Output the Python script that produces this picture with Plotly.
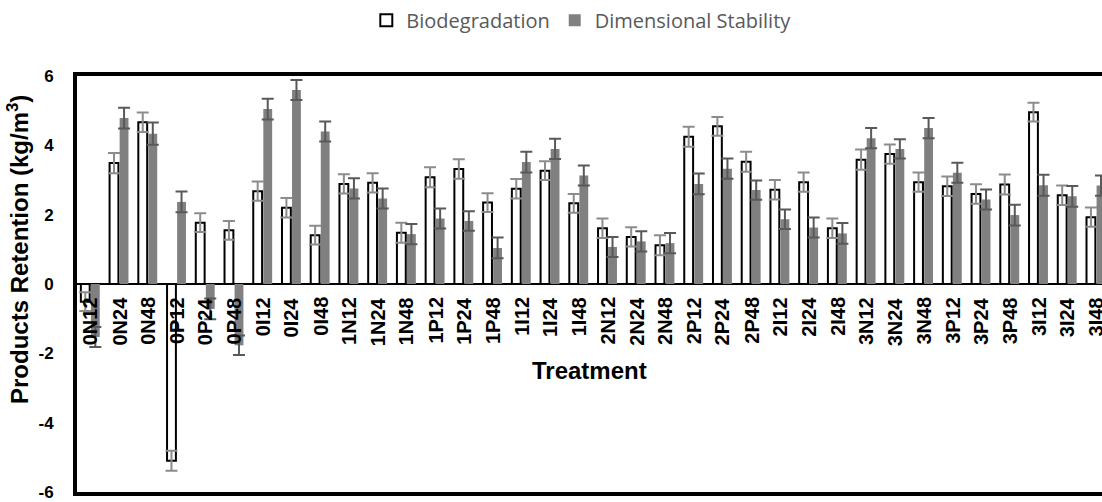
import plotly.graph_objects as go

# Treatment codes along the x axis
treatments = [
    "0N12", "0N24", "0N48", "0P12", "0P24", "0P48", "0I12", "0I24", "0I48",
    "1N12", "1N24", "1N48", "1P12", "1P24", "1P48", "1I12", "1I24", "1I48",
    "2N12", "2N24", "2N48", "2P12", "2P24", "2P48", "2I12", "2I24", "2I48",
    "3N12", "3N24", "3N48", "3P12", "3P24", "3P48", "3I12", "3I24", "3I48",
]

# Products retention (kg/m3) after the biodegradation test
biodegradation = [
    -0.51, 3.49, 4.67, -5.10, 1.77, 1.55, 2.68, 2.20, 1.41,
    2.89, 2.92, 1.48, 3.08, 3.32, 2.35, 2.75, 3.27, 2.33,
    1.61, 1.36, 1.12, 4.25, 4.55, 3.53, 2.72, 2.94, 1.61,
    3.59, 3.75, 2.94, 2.82, 2.60, 2.87, 4.96, 2.56, 1.93,
]
biodegradation_err = [
    0.27, 0.29, 0.28, 0.29, 0.27, 0.27, 0.28, 0.28, 0.27,
    0.28, 0.28, 0.29, 0.29, 0.28, 0.27, 0.28, 0.27, 0.27,
    0.28, 0.28, 0.29, 0.29, 0.27, 0.29, 0.28, 0.28, 0.28,
    0.29, 0.28, 0.28, 0.28, 0.28, 0.29, 0.27, 0.28, 0.28,
]

# Products retention (kg/m3) after the dimensional stability test
dimensional = [
    -1.53, 4.79, 4.34, 2.37, -0.72, -1.77, 5.05, 5.60, 4.40,
    2.76, 2.47, 1.44, 1.89, 1.82, 1.04, 3.52, 3.90, 3.13,
    1.07, 1.23, 1.18, 2.89, 3.33, 2.71, 1.87, 1.63, 1.46,
    4.21, 3.90, 4.50, 3.21, 2.44, 1.99, 2.85, 2.53, 2.84,
]
dimensional_err = [
    0.29, 0.30, 0.32, 0.30, 0.30, 0.28, 0.30, 0.29, 0.29,
    0.29, 0.29, 0.29, 0.29, 0.28, 0.30, 0.30, 0.29, 0.29,
    0.29, 0.29, 0.29, 0.30, 0.29, 0.28, 0.28, 0.29, 0.30,
    0.29, 0.28, 0.29, 0.29, 0.29, 0.30, 0.30, 0.30, 0.29,
]

y_ticks = [-6, -4, -2, 0, 2, 4, 6]
y_ticktext = ["-6", "-4", "-2", "0", "2", "4", "6"]

ARIAL = "Arial, Liberation Sans, sans-serif"

x = [float(i) for i in range(len(treatments))]
x_range = [-0.463, 35.21]

fig = go.Figure()
fig.add_trace(go.Bar(
    name="Biodegradation",
    x=x, y=biodegradation,
    marker=dict(color="white", line=dict(color="black", width=2)),
    error_y=dict(type="data", array=biodegradation_err, visible=True,
                 color="#8c8c8c", thickness=2, width=6),
))
fig.add_trace(go.Bar(
    name="Dimensional Stability",
    x=x, y=dimensional,
    marker=dict(color="#808080", line=dict(width=0)),
    error_y=dict(type="data", array=dimensional_err, visible=True,
                 color="#595959", thickness=2, width=6),
))

fig.update_layout(
    width=1102, height=502,
    margin=dict(l=77, r=0, t=76, b=8),
    paper_bgcolor="white", plot_bgcolor="white",
    barmode="group", bargap=0.30, bargroupgap=0.12,
    font=dict(family=ARIAL, color="black"),
    showlegend=True,
    legend=dict(
        orientation="h", x=0.492, xanchor="center", y=1.134, yanchor="middle",
        font=dict(family="Open Sans, sans-serif", size=20, color="#595959"),
        itemwidth=30, bgcolor="rgba(0,0,0,0)",
    ),
    xaxis=dict(
        range=x_range, showgrid=False, zeroline=False,
        showline=True, linecolor="black", linewidth=4, mirror=True,
        ticks="", showticklabels=False,
    ),
    yaxis=dict(
        range=[-6.004, 6.004], showgrid=False,
        zeroline=True, zerolinecolor="black", zerolinewidth=1.5,
        showline=True, linecolor="black", linewidth=4, mirror=False,
        tickmode="array", tickvals=y_ticks, ticktext=y_ticktext,
        ticks="", ticklabelstandoff=16, ticklabeloverflow="allow",
        tickfont=dict(family=ARIAL, size=17, color="black", weight="bold"),
    ),
)

# Treatment labels sit just under the zero line, rotated to read upward
for xi, label in zip(x, treatments):
    fig.add_annotation(
        text=f"<b>{label}</b>", x=xi, y=0, xref="x", yref="y",
        xanchor="center", yanchor="top", textangle=-90, yshift=-11,
        showarrow=False, font=dict(family=ARIAL, size=20, color="black"),
    )

fig.add_annotation(
    text="<b>Treatment</b>", xref="paper", yref="paper",
    x=0.5, y=0.292, xanchor="center", yanchor="middle", showarrow=False,
    font=dict(family=ARIAL, size=24, color="black"),
)
fig.add_annotation(
    text="<b>Products Retention (kg/m<sup>3</sup>)</b>", xref="paper", yref="paper",
    x=-0.0576, y=0.584, xanchor="center", yanchor="middle", textangle=-90,
    showarrow=False,
    font=dict(family=ARIAL, size=24, color="black"),
)

fig.write_html("out.html")
